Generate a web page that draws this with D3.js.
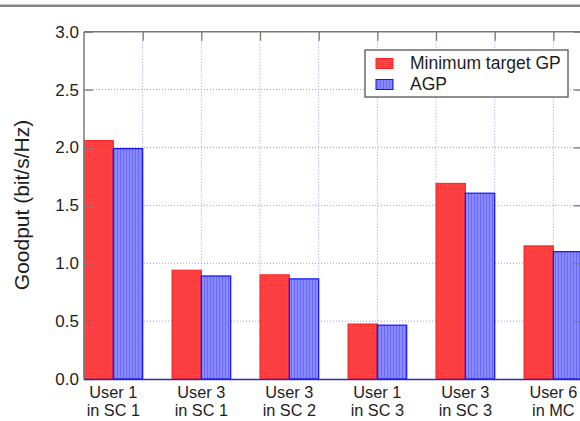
<!DOCTYPE html>
<html>
<head>
<meta charset="utf-8">
<script src="https://cdn.jsdelivr.net/npm/d3@7"></script>
<style>
  body { margin: 0; background: #fff; }
  svg { display: block; font-family: "Liberation Sans", Arial, sans-serif; }
</style>
</head>
<body>
<div id="chart"></div>
<script>
// data
var users = ["User 1", "User 3", "User 3", "User 1", "User 3", "User 6"];
var cells = ["in SC 1", "in SC 1", "in SC 2", "in SC 3", "in SC 3", "in MC"];
var minTargetGP = [2.06, 0.94, 0.90, 0.475, 1.69, 1.15];
var agp = [1.99, 0.89, 0.865, 0.465, 1.605, 1.10];
var seriesNames = ["Minimum target GP", "AGP"];
var yTicks = [0.0, 0.5, 1.0, 1.5, 2.0, 2.5, 3.0];

var W = 580, H = 421;
var plotLeft = 84, plotTop = 31.7, plotBottom = 379;
var unit = 58.67;
var plotRight = plotLeft + 8.5 * unit;

var svg = d3.select("#chart")
    .append("svg")
    .attr("width", W)
    .attr("height", H);

// fill textures
var defs = svg.append("defs");
var pr = defs.append("pattern").attr("id", "redfill")
    .attr("width", 2).attr("height", 2).attr("patternUnits", "userSpaceOnUse");
pr.append("rect").attr("width", 2).attr("height", 2).attr("fill", "#ff4545");
pr.append("rect").attr("width", 1).attr("height", 1).attr("fill", "#f03030");
var pb = defs.append("pattern").attr("id", "bluefill")
    .attr("width", 3).attr("height", 3).attr("patternUnits", "userSpaceOnUse");
pb.append("rect").attr("width", 3).attr("height", 3).attr("fill", "#8a8aff");
pb.append("rect").attr("width", 1).attr("height", 3).attr("fill", "#6a6af4");

// top border line
svg.append("rect")
    .attr("x", 0).attr("y", 4.5)
    .attr("width", W).attr("height", 2.5)
    .attr("fill", "#858585");

var x = d3.scaleLinear().domain([0, 8.5]).range([plotLeft, plotRight]);
var y = d3.scaleLinear().domain([0, 3]).range([plotBottom, plotTop]);

// grid
svg.append("g")
    .selectAll("line")
    .data(d3.range(1, 9))
    .join("line")
    .attr("x1", function (d) { return x(d); })
    .attr("x2", function (d) { return x(d); })
    .attr("y1", plotTop).attr("y2", plotBottom)
    .attr("stroke", "#9a9aff")
    .attr("stroke-width", 1)
    .attr("stroke-dasharray", "1,2");
svg.append("g")
    .selectAll("line")
    .data(yTicks.slice(1, -1))
    .join("line")
    .attr("x1", plotLeft).attr("x2", plotRight)
    .attr("y1", function (d) { return y(d); })
    .attr("y2", function (d) { return y(d); })
    .attr("stroke", "#9a9aff")
    .attr("stroke-width", 1)
    .attr("stroke-dasharray", "1,2");

// bars
var centers = users.map(function (u, i) { return 0.5 + 1.5 * i; });
svg.append("g")
    .selectAll("rect")
    .data(minTargetGP)
    .join("rect")
    .attr("x", function (d, i) { return x(centers[i] - 0.5); })
    .attr("y", function (d) { return y(d); })
    .attr("width", x(0.5) - x(0))
    .attr("height", function (d) { return y(0) - y(d); })
    .attr("fill", "url(#redfill)")
    .attr("stroke", "#ff2020")
    .attr("stroke-width", 1);
svg.append("g")
    .selectAll("rect")
    .data(agp)
    .join("rect")
    .attr("x", function (d, i) { return x(centers[i]); })
    .attr("y", function (d) { return y(d); })
    .attr("width", x(0.5) - x(0))
    .attr("height", function (d) { return y(0) - y(d); })
    .attr("fill", "url(#bluefill)")
    .attr("stroke", "#1010ff")
    .attr("stroke-width", 1.2);

// axes frame
var axisColor = "#7a7a7a";
svg.append("line")
    .attr("x1", plotLeft).attr("x2", plotLeft).attr("y1", plotTop).attr("y2", plotBottom)
    .attr("stroke", axisColor).attr("stroke-width", 1.5);
svg.append("line")
    .attr("x1", plotRight).attr("x2", plotRight).attr("y1", plotTop).attr("y2", plotBottom)
    .attr("stroke", axisColor).attr("stroke-width", 1.5);
svg.append("line")
    .attr("x1", plotLeft).attr("x2", plotRight).attr("y1", plotTop).attr("y2", plotTop)
    .attr("stroke", axisColor).attr("stroke-width", 1.5);

// y axis labels + inward ticks
var yAxis = svg.append("g")
    .attr("transform", "translate(" + plotLeft + ",0)")
    .call(d3.axisLeft(y).tickValues(yTicks).tickFormat(d3.format(".1f"))
        .tickSizeInner(-9).tickSizeOuter(0).tickPadding(5));
yAxis.select(".domain").remove();
yAxis.selectAll(".tick line").attr("stroke", axisColor).attr("stroke-width", 1.3);
yAxis.selectAll("text").attr("font-size", "17px").attr("fill", "#1e1e1e");

var yAxisR = svg.append("g")
    .attr("transform", "translate(" + plotRight + ",0)")
    .call(d3.axisRight(y).tickValues(yTicks).tickSizeInner(-9).tickSizeOuter(0).tickFormat(""));
yAxisR.select(".domain").remove();
yAxisR.selectAll(".tick line").attr("stroke", axisColor).attr("stroke-width", 1.3);

// top ticks
var xTop = svg.append("g")
    .attr("transform", "translate(0," + plotTop + ")")
    .call(d3.axisTop(x).tickValues(d3.range(1, 9)).tickSizeInner(-9).tickSizeOuter(0).tickFormat(""));
xTop.select(".domain").remove();
xTop.selectAll(".tick line").attr("stroke", axisColor).attr("stroke-width", 1.3);

// bottom axis line
svg.append("line")
    .attr("x1", plotLeft).attr("x2", plotRight).attr("y1", plotBottom + 0.5).attr("y2", plotBottom + 0.5)
    .attr("stroke", "#2a2ab8").attr("stroke-width", 1.6);

// category labels (two lines each)
var catLines = [users, cells];
catLines.forEach(function (line, k) {
    svg.append("g")
        .selectAll("text")
        .data(line)
        .join("text")
        .attr("x", function (d, i) { return x(centers[i]); })
        .attr("y", 397.5 + k * 18.5)
        .attr("text-anchor", "middle")
        .attr("font-size", "16.3px")
        .attr("fill", "#1e1e1e")
        .text(function (d) { return d; });
});

// y title
svg.append("text")
    .attr("transform", "translate(29,205) rotate(-90)")
    .attr("text-anchor", "middle")
    .attr("font-size", "21px")
    .attr("fill", "#1e1e1e")
    .text("Goodput (bit/s/Hz)");

// legend
var lg = svg.append("g").attr("transform", "translate(365,50)");
lg.append("rect")
    .attr("width", 203).attr("height", 47)
    .attr("fill", "#fff")
    .attr("stroke", "#555").attr("stroke-width", 1.3);
var fills = ["url(#redfill)", "url(#bluefill)"];
var strokes = ["#ff2020", "#1010ff"];
seriesNames.forEach(function (name, i) {
    lg.append("rect")
        .attr("x", 11).attr("y", 8.5 + i * 21)
        .attr("width", 17).attr("height", 10)
        .attr("fill", fills[i]).attr("stroke", strokes[i]).attr("stroke-width", 1);
    lg.append("text")
        .attr("x", 45).attr("y", 19 + i * 21)
        .attr("font-size", "17.5px")
        .attr("fill", "#1e1e1e")
        .text(name);
});
</script>
</body>
</html>
